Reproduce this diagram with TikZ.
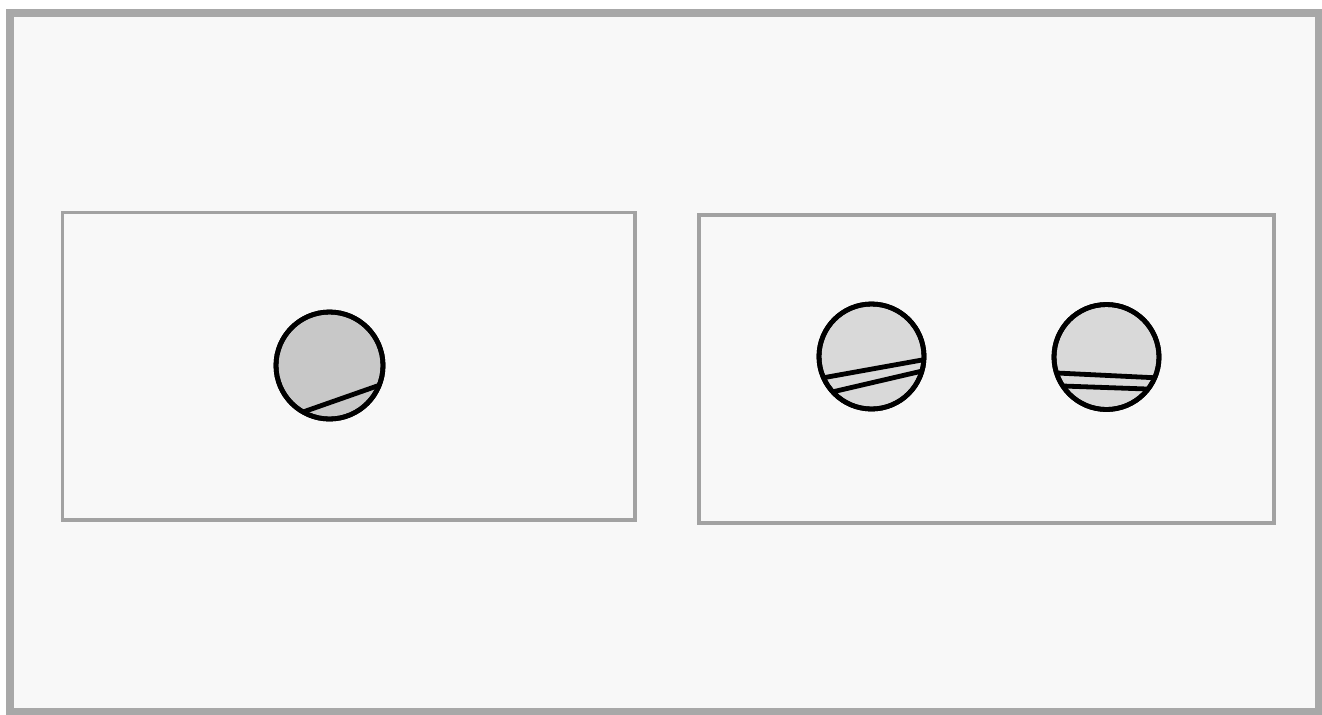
\documentclass[tikz,border=0pt]{standalone}
\usetikzlibrary{calc}
\definecolor{bgc}{HTML}{F8F8F8}
\definecolor{framec}{HTML}{A8A8A8}
\definecolor{boxc}{HTML}{A2A2A2}
\definecolor{darkfill}{HTML}{C8C8C8}
\definecolor{lightfill}{HTML}{D9D9D9}
\tikzset{
  panel/.style={draw=boxc, line width=1.6pt, fill=bgc},
  ball/.style={circle, draw=black, line width=2.4pt, minimum size=#1, inner sep=0pt},
  chord/.style={line width=2.4pt, draw=black},
}
\begin{document}
\begin{tikzpicture}[x=0.5pt,y=-0.5pt]
\useasboundingbox (0,0) rectangle (1322,714);
\fill[white] (0,0) rectangle (1322,714);
\draw[framec, line width=3.8pt, fill=bgc] (10,13) rectangle (1319,711.5);
\draw[panel] (62.5,212.5) rectangle (635,520);
\draw[panel] (699,215) rectangle (1274,523);
% circle 1
\node[ball=53.5pt, fill=darkfill] (c1) at (329.5,365.5) {};
\coordinate (a1) at (303,412); \coordinate (b1) at (380,385);
\begin{scope}
  \clip (c1.center) circle (53.5);
  \draw[chord] ($(a1)!-1!(b1)$) -- ($(b1)!-1!(a1)$);
\end{scope}
\node[ball=53.5pt] at (c1) {};
% circle 2
\node[ball=52.5pt, fill=lightfill] (c2) at (871.5,356.5) {};
\coordinate (a2) at (822,378); \coordinate (b2) at (922,360);
\coordinate (a3) at (832,392); \coordinate (b3) at (918,372);
\begin{scope}
  \clip (c2.center) circle (52.5);
  \draw[chord] ($(a2)!-1!(b2)$) -- ($(b2)!-1!(a2)$);
  \draw[chord] ($(a3)!-1!(b3)$) -- ($(b3)!-1!(a3)$);
\end{scope}
\node[ball=52.5pt] at (c2) {};
% circle 3
\node[ball=52.5pt, fill=lightfill] (c3) at (1106.5,357) {};
\coordinate (a4) at (1057,373); \coordinate (b4) at (1160,378);
\coordinate (a5) at (1063,386); \coordinate (b5) at (1147,389);
\begin{scope}
  \clip (c3.center) circle (52.5);
  \draw[chord] ($(a4)!-1!(b4)$) -- ($(b4)!-1!(a4)$);
  \draw[chord] ($(a5)!-1!(b5)$) -- ($(b5)!-1!(a5)$);
\end{scope}
\node[ball=52.5pt] at (c3) {};
\end{tikzpicture}
\end{document}
